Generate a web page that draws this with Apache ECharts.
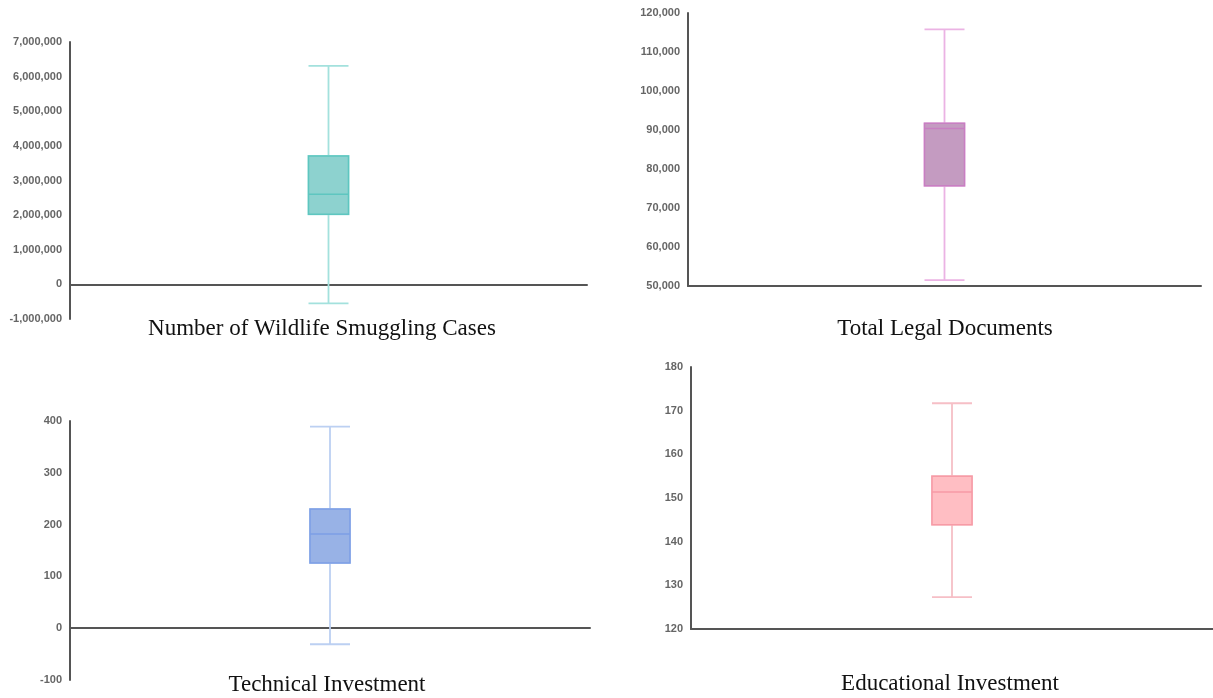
<!DOCTYPE html>
<html>
<head>
<meta charset="utf-8">
<script src="https://cdn.jsdelivr.net/npm/echarts@6/dist/echarts.min.js"></script>
<style>html,body{margin:0;padding:0;background:#fff;}#c{width:1213px;height:698px;}</style>
</head>
<body>
<div id="c"></div>
<script>
// [min, Q1, median, Q3, max]
const titles = ['Number of Wildlife Smuggling Cases', 'Total Legal Documents', 'Technical Investment', 'Educational Investment'];
const wildlifeCases = [-550000, 2025000, 2600000, 3710000, 6310000];
const legalDocuments = [51500, 75700, 90400, 91700, 115800];
const technicalInvestment = [-31, 126, 182, 230, 389];
const educationalInvestment = [127.3, 143.9, 151.4, 155.0, 171.7];
const yMin = [-1000000, 50000, -100, 120];
const yMax = [7000000, 120000, 400, 180];
const yStep = [1000000, 10000, 100, 10];

const allData = [wildlifeCases, legalDocuments, technicalInvestment, educationalInvestment];
const fills = ['#8dd2cf', '#c49bc1', '#98b2e6', '#ffbec3'];
const borders = ['#5ec6c0', '#c87fc2', '#7c9fe6', '#f79ba6'];
const whiskers = ['#a3e1dd', '#ebb3e4', '#bcd0f2', '#f6bfc6'];

const grids = [
  {left: 70, right: 626, top: 42, bottom: 379},
  {left: 688, right: 12, top: 13, bottom: 412},
  {left: 70, right: 623, top: 421, bottom: 18},
  {left: 691, right: -1, top: 367, bottom: 69}
];
const titlePos = [[322, 329], [945, 329], [327, 685], [950, 684]];

const xAxis = [], yAxis = [], series = [], graphic = [];
for (let i = 0; i < 4; i++) {
  xAxis.push({
    type: 'category', gridIndex: i, data: [''],
    axisLine: {onZero: true, lineStyle: {color: '#555', width: 2}},
    axisTick: {show: false}, axisLabel: {show: false}, splitLine: {show: false}
  });
  xAxis.push({type: 'category', gridIndex: i, data: [''], show: false});
  yAxis.push({
    type: 'value', gridIndex: i, min: yMin[i], max: yMax[i], interval: yStep[i],
    axisLine: {show: true, onZero: false, lineStyle: {color: '#555', width: 2}},
    axisTick: {show: false}, splitLine: {show: false},
    axisLabel: {
      color: '#666', fontSize: 11, fontWeight: 'bold', fontFamily: 'Liberation Sans', margin: 8,
      formatter: v => v.toLocaleString('en-US')
    }
  });
  const d = allData[i];
  series.push({
    type: 'boxplot', xAxisIndex: 2 * i, yAxisIndex: i, boxWidth: [40, 40],
    data: [d.slice()],
    itemStyle: {color: 'rgba(0,0,0,0)', borderColor: whiskers[i], borderWidth: 1.8},
    emphasis: {disabled: true}, silent: true
  });
  series.push({
    type: 'boxplot', xAxisIndex: 2 * i + 1, yAxisIndex: i, boxWidth: [40, 40],
    data: [[d[1], d[1], d[2], d[3], d[3]]],
    itemStyle: {color: fills[i], borderColor: borders[i], borderWidth: 1.5},
    emphasis: {disabled: true}, silent: true
  });
  graphic.push({
    type: 'text', x: titlePos[i][0], y: titlePos[i][1],
    style: {text: titles[i], font: '23px "Liberation Serif"', fill: '#111', align: 'center', verticalAlign: 'middle'}
  });
}

const chart = echarts.init(document.getElementById('c'));
chart.setOption({animation: false, grid: grids, xAxis, yAxis, series, graphic});
</script>
</body>
</html>
